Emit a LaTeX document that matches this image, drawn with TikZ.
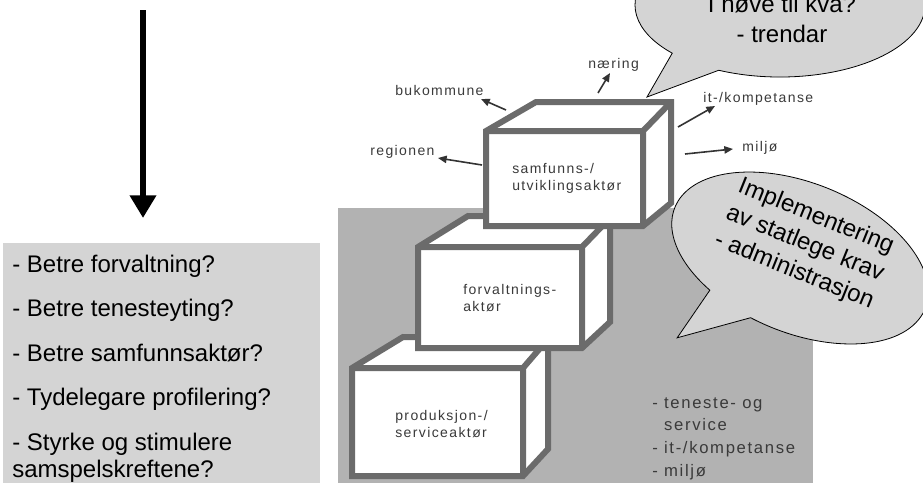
\documentclass[tikz,border=0pt]{standalone}
\usepackage{fontspec}
\setmainfont{Liberation Sans}
\newfontfamily\spacedfont[LetterSpace=10]{Liberation Sans}
\usepackage{tikz}
\usetikzlibrary{arrows.meta}

\definecolor{panelgray}{RGB}{212,212,212}
\definecolor{stairgray}{RGB}{178,178,178}
\definecolor{cubeedge}{RGB}{107,107,107}
\definecolor{labelgray}{RGB}{58,58,58}
\definecolor{arrowgray}{RGB}{51,51,51}

\tikzset{
  cubeface/.style={draw=cubeedge, line width=4.5pt, fill=white},
  cubeline/.style={draw=cubeedge, line width=4.5pt},
  bubble/.style={draw=black, line width=0.6pt, fill=panelgray},
  bigarrow/.style={line width=5pt, -{Triangle[width=19pt,length=17pt]}},
  lblarrow/.style={draw=arrowgray, line width=1.2pt, -{Triangle[width=5.5pt,length=6.5pt]}},
  smalllabel/.style={anchor=base west, inner sep=0pt, text=labelgray, font=\spacedfont\fontsize{10.5}{12.75}\selectfont},
  boxlabel/.style={anchor=north west, inner sep=0pt, align=left, text=labelgray, font=\spacedfont\fontsize{10.5}{12.75}\selectfont},
  bubbletext/.style={inner sep=0pt, align=center, font=\fontsize{18}{22}\selectfont}
}

\begin{document}
\begin{tikzpicture}[x=0.75pt,y=0.75pt,yscale=-1,xscale=1]
\useasboundingbox (0,0) rectangle (923,483);

%Shape: Rectangle [left panel]
\fill[panelgray] (3,243) rectangle (320,483);
%Shape: Rectangle [stair backdrop]
\fill[stairgray] (338,208) rectangle (813,483);

%Straight Lines [down arrow]
\coordinate (downTop) at (143,10);
\coordinate (downTip) at (143,218);
\draw[bigarrow] (downTop) -- (downTip);

% Text Node
\node (questions) at (12,254.5) [anchor=north west, inner sep=0pt, align=left, font=\fontsize{18}{20.25}\selectfont] {- Betre forvaltning?\\[13.1pt]- Betre tenesteyting?\\[13.1pt]- Betre samfunnsaktør?\\[13.1pt]- Tydelegare profilering?\\[13.1pt]- Styrke og stimulere\\samspelskreftene?};

%Shape: Cube [produksjon]
\draw[cubeface] (352,476) -- (352,368) -- (403,337) -- (548,339) -- (548,449) -- (523,476) -- cycle;
\draw[cubeline] (352,368) -- (523,368) -- (548,339) (523,368) -- (523,476);
%Shape: Cube [forvaltning]
\draw[cubeface] (418,348) -- (418,247) -- (468,216) -- (610,218) -- (610,322) -- (582,348) -- cycle;
\draw[cubeline] (418,247) -- (582,247) -- (610,218) (582,247) -- (582,348);
%Shape: Cube [samfunn]
\draw[cubeface] (486,226) -- (486,131) -- (536,102) -- (671,102) -- (671,203) -- (643,226) -- cycle;
\draw[cubeline] (486,131) -- (643,131) -- (671,102) (643,131) -- (643,226);

% Text Node
\node (samfTxt) at (512,162.8) [boxlabel] {samfunns-/\\utviklingsaktør};
% Text Node
\node (forvTxt) at (463,283.8) [boxlabel] {forvaltnings-\\aktør};
% Text Node
\node (prodTxt) at (395,409.8) [boxlabel] {produksjon-/\\serviceaktør};
% Text Node
\node (roleList) at (652,397) [anchor=north west, inner sep=0pt, align=left, text=labelgray, font=\spacedfont\fontsize{12.5}{17}\selectfont] {- teneste- og\\\phantom{- }service\\- it-/kompetanse\\- miljø};

% Text Node
\node (regionen) at (370,155) [smalllabel] {regionen};
% Text Node
\node (bukommune) at (395,95) [smalllabel] {bukommune};
% Text Node
\node (naering) at (588,68) [smalllabel] {næring};
% Text Node
\node (itkomp) at (703,102) [smalllabel] {it-/kompetanse};
% Text Node
\node (miljo) at (742,151) [smalllabel] {miljø};

%Straight Lines [label arrows]
\coordinate (regFrom) at (482,165);
\coordinate (regTo) at (438,158);
\coordinate (bukFrom) at (506,110);
\coordinate (bukTo) at (481,99);
\coordinate (naeFrom) at (598,93);
\coordinate (naeTo) at (610,73);
\coordinate (itFrom) at (678,127);
\coordinate (itTo) at (715,106);
\coordinate (milFrom) at (685,154);
\coordinate (milTo) at (733,149);
\draw[lblarrow] (regFrom) -- (regTo);
\draw[lblarrow] (bukFrom) -- (bukTo);
\draw[lblarrow] (naeFrom) -- (naeTo);
\draw[lblarrow] (itFrom) -- (itTo);
\draw[lblarrow] (milFrom) -- (milTo);

%Shape: Speech Bubble [trendar]
\begin{scope}[shift={(780,5)}]
\draw[bubble] (115:145 and 72) arc[start angle=115, end angle=-222, x radius=145, y radius=72] -- (-133,92) -- cycle;
\end{scope}
% Text Node
\node (trendTxt) at (782,19) [bubbletext] {I høve til kva?\\- trendar};

%Shape: Speech Bubble [implementering]
\begin{scope}[shift={(800,258)}, rotate=22]
\draw[bubble] (100:135 and 75) arc[start angle=100, end angle=-238, x radius=135, y radius=75] -- (-84,120) -- cycle;
\end{scope}
% Text Node
\node (implTxt) at (805,244) [rotate=-22, bubbletext] {Implementering\\av statlege krav\\- administrasjon};

\end{tikzpicture}
\end{document}
